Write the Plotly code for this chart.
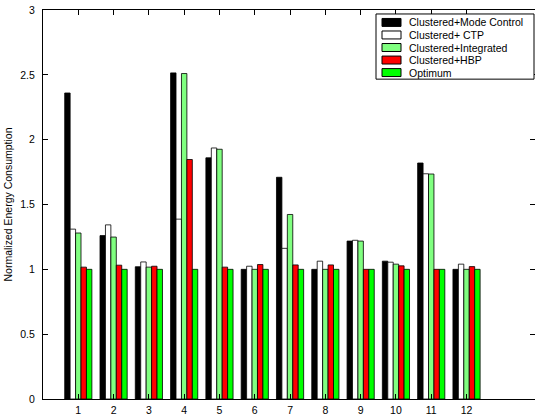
import plotly.graph_objects as go

categories = [1, 2, 3, 4, 5, 6, 7, 8, 9, 10, 11, 12]
series_names = ["Clustered+Mode Control", "Clustered+ CTP", "Clustered+Integrated", "Clustered+HBP", "Optimum"]
mode_control = [2.36, 1.26, 1.02, 2.515, 1.86, 1.0, 1.71, 1.0, 1.218, 1.063, 1.82, 1.0]
ctp = [1.31, 1.343, 1.057, 1.387, 1.936, 1.024, 1.162, 1.063, 1.224, 1.055, 1.737, 1.04]
integrated = [1.28, 1.249, 1.017, 2.51, 1.926, 1.0, 1.423, 1.0, 1.218, 1.04, 1.735, 1.0]
hbp = [1.017, 1.032, 1.024, 1.847, 1.017, 1.037, 1.034, 1.034, 1.0, 1.027, 1.0, 1.021]
optimum = [1.0, 1.0, 1.0, 1.0, 1.0, 1.0, 1.0, 1.0, 1.0, 1.0, 1.0, 1.0]
colors = ["#000000", "#FFFFFF", "#80FF80", "#FF0000", "#00FF00"]
y_ticks = [0, 0.5, 1, 1.5, 2, 2.5, 3]

W, H = 535, 416
ML, MR, MT, MB = 43, 0, 10, 15
PW, PH = W - ML - MR, H - MT - MB


def px(xp):
    return (xp - ML) / PW


def py(yp):
    return (H - MB - yp) / PH


fig = go.Figure()
for name, vals, c in zip(series_names, [mode_control, ctp, integrated, hbp, optimum], colors):
    fig.add_trace(go.Bar(x=categories, y=vals, name=name, showlegend=False,
                         marker=dict(color=c, line=dict(color="black", width=0.8))))

# invisible helper trace to provide right-side ticks without a line
fig.add_trace(go.Scatter(x=[categories[0]], y=[0], yaxis="y2", showlegend=False,
                         mode="markers", marker=dict(opacity=0), hoverinfo="skip"))

# legend drawn as shapes + text, in MATLAB style
shapes = [dict(type="rect", xref="paper", yref="paper",
               x0=px(376), x1=px(534), y0=py(79.5), y1=py(14),
               fillcolor="white", line=dict(color="black", width=1), layer="above")]
annotations = []
row0, step = 22.5, 12.6
for i, (name, c) in enumerate(zip(series_names, colors)):
    cy = row0 + i * step
    shapes.append(dict(type="rect", xref="paper", yref="paper",
                       x0=px(382), x1=px(401), y0=py(cy + 4), y1=py(cy - 4),
                       fillcolor=c, line=dict(color="black", width=1), layer="above"))
    annotations.append(dict(xref="paper", yref="paper", x=px(406.5), y=py(cy),
                            xanchor="left", yanchor="middle", showarrow=False,
                            text=name, font=dict(size=10.5, color="black")))

font = dict(family="Liberation Sans, Arial, sans-serif", size=10.5, color="black")
fig.update_layout(
    width=W, height=H,
    margin=dict(l=ML, r=MR, t=MT, b=MB),
    paper_bgcolor="white", plot_bgcolor="white",
    font=font, showlegend=False,
    barmode="group", bargap=0.23, bargroupgap=0.0,
    shapes=shapes, annotations=annotations,
    xaxis=dict(range=[0, 13.94], tickvals=categories, ticktext=[str(c) for c in categories],
               showline=True, linecolor="black", linewidth=1, mirror="ticks",
               ticks="inside", ticklen=5, tickcolor="black", showgrid=False, zeroline=False,
               ticklabelstandoff=1, tickfont=font),
    yaxis=dict(range=[0, 3], tickvals=y_ticks, ticktext=["0", "0.5", "1", "1.5", "2", "2.5", "3"],
               showline=True, linecolor="black", linewidth=1, mirror=False,
               ticks="inside", ticklen=5, tickcolor="black", showgrid=False, zeroline=False,
               ticklabelstandoff=5, tickfont=font,
               title=dict(text="Normalized Energy Consumption", font=dict(size=10.5), standoff=5)),
    yaxis2=dict(range=[0, 3], tickvals=y_ticks, overlaying="y", side="right", showline=False,
                ticks="inside", ticklen=5, tickcolor="black", showticklabels=False,
                showgrid=False, zeroline=False),
)

fig.write_html("out.html")
